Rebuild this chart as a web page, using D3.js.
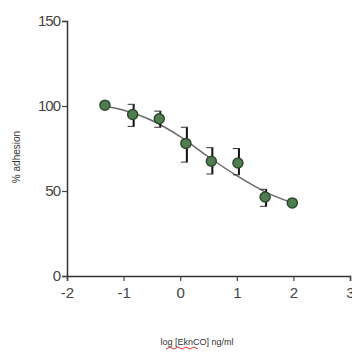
<!DOCTYPE html>
<html>
<head>
<meta charset="utf-8">
<script src="https://cdn.jsdelivr.net/npm/d3@7"></script>
<style>
  html, body { margin: 0; padding: 0; background: #fff; }
  svg { display: block; font-family: "Liberation Sans", Arial, sans-serif; }
</style>
</head>
<body>
<svg width="352" height="353"></svg>
<script>
// measured points (log conc, % adhesion, error bar low/high)
const logConc = [-1.33, -0.84, -0.37, 0.1, 0.55, 1.02, 1.5, 1.98];
const adhesion = [100.5, 95, 92.5, 78, 67.5, 66.5, 46.5, 43];
const errLow = [100.5, 88, 87.5, 67, 60, 59.5, 41, 43];
const errHigh = [100.5, 101, 97, 87.5, 75.5, 75, 51, 43];

// fitted curve
const curveX = [-1.33, -1, -0.5, 0, 0.5, 1, 1.5, 1.98];
const curveY = [100, 97.5, 91.5, 82, 70, 59, 49.5, 43];

const xTicks = [-2, -1, 0, 1, 2, 3];
const yTicks = [0, 50, 100, 150];

const svg = d3.select('svg');

const x = d3.scaleLinear().domain([-2, 3]).range([67, 350]);
const y = d3.scaleLinear().domain([0, 150]).range([276, 21]);

// plain hyphen for negatives, like the original
const fmt = d => String(d);

// axes
const xAxis = svg.append('g')
  .attr('transform', `translate(0,${y(0)})`)
  .call(d3.axisBottom(x).tickValues(xTicks).tickSize(5).tickPadding(6).tickFormat(fmt));
const yAxis = svg.append('g')
  .attr('transform', `translate(${x(-2)},0)`)
  .call(d3.axisLeft(y).tickValues(yTicks).tickSize(5).tickPadding(2).tickFormat(fmt));

[xAxis, yAxis].forEach(g => {
  g.select('.domain').attr('stroke', '#333').attr('stroke-width', 1.5);
  g.selectAll('.tick line').attr('stroke', '#444').attr('stroke-width', 1.2);
  g.selectAll('.tick text')
    .attr('fill', '#444')
    .attr('font-size', 15)
    .attr('font-family', '"Liberation Sans", Arial, sans-serif');
});
yAxis.selectAll('.tick text').attr('letter-spacing', -1);

// axis titles
svg.append('text')
  .attr('transform', 'translate(20,157) rotate(-90)')
  .attr('text-anchor', 'middle')
  .attr('font-size', 10)
  .attr('fill', '#333')
  .text('% adhesion');

svg.append('text')
  .attr('x', 197)
  .attr('y', 345)
  .attr('text-anchor', 'middle')
  .attr('font-size', 9)
  .attr('fill', '#333')
  .text('log [EknCO] ng/ml');

// red spell-check squiggle under the compound name
svg.append('path')
  .attr('d', d3.range(0, 9).map((i) => `${i === 0 ? 'M' : 'L'}${166 + i * 4},${i % 2 ? 347 : 349}`).join(''))
  .attr('fill', 'none')
  .attr('stroke', '#d33')
  .attr('stroke-width', 1);

// fitted curve
const line = d3.line()
  .x(d => x(d[0]))
  .y(d => y(d[1]))
  .curve(d3.curveMonotoneX);

svg.append('path')
  .datum(curveX.map((v, i) => [v, curveY[i]]))
  .attr('d', line)
  .attr('fill', 'none')
  .attr('stroke', '#6a6a6a')
  .attr('stroke-width', 1.5);

// error bars
const pts = logConc.map((v, i) => ({ x: v, y: adhesion[i], lo: errLow[i], hi: errHigh[i] }));
const bars = svg.append('g').selectAll('g')
  .data(pts.filter(d => d.hi - d.lo > 0))
  .enter()
  .append('g');

bars.append('line')
  .attr('x1', d => x(d.x) + 1)
  .attr('x2', d => x(d.x) + 1)
  .attr('y1', d => y(d.lo))
  .attr('y2', d => y(d.hi))
  .attr('stroke', '#111')
  .attr('stroke-width', 2);

['lo', 'hi'].forEach(k => {
  bars.append('line')
    .attr('x1', d => x(d.x) - 5)
    .attr('x2', d => x(d.x) + 2)
    .attr('y1', d => y(d[k]))
    .attr('y2', d => y(d[k]))
    .attr('stroke', '#333')
    .attr('stroke-width', 1);
});

// markers
svg.append('g').selectAll('circle')
  .data(pts)
  .enter()
  .append('circle')
  .attr('cx', d => x(d.x))
  .attr('cy', d => y(d.y))
  .attr('r', 5)
  .attr('fill', '#4f7d4f')
  .attr('stroke', '#2d4a2d')
  .attr('stroke-width', 1.5);
</script>
</body>
</html>
